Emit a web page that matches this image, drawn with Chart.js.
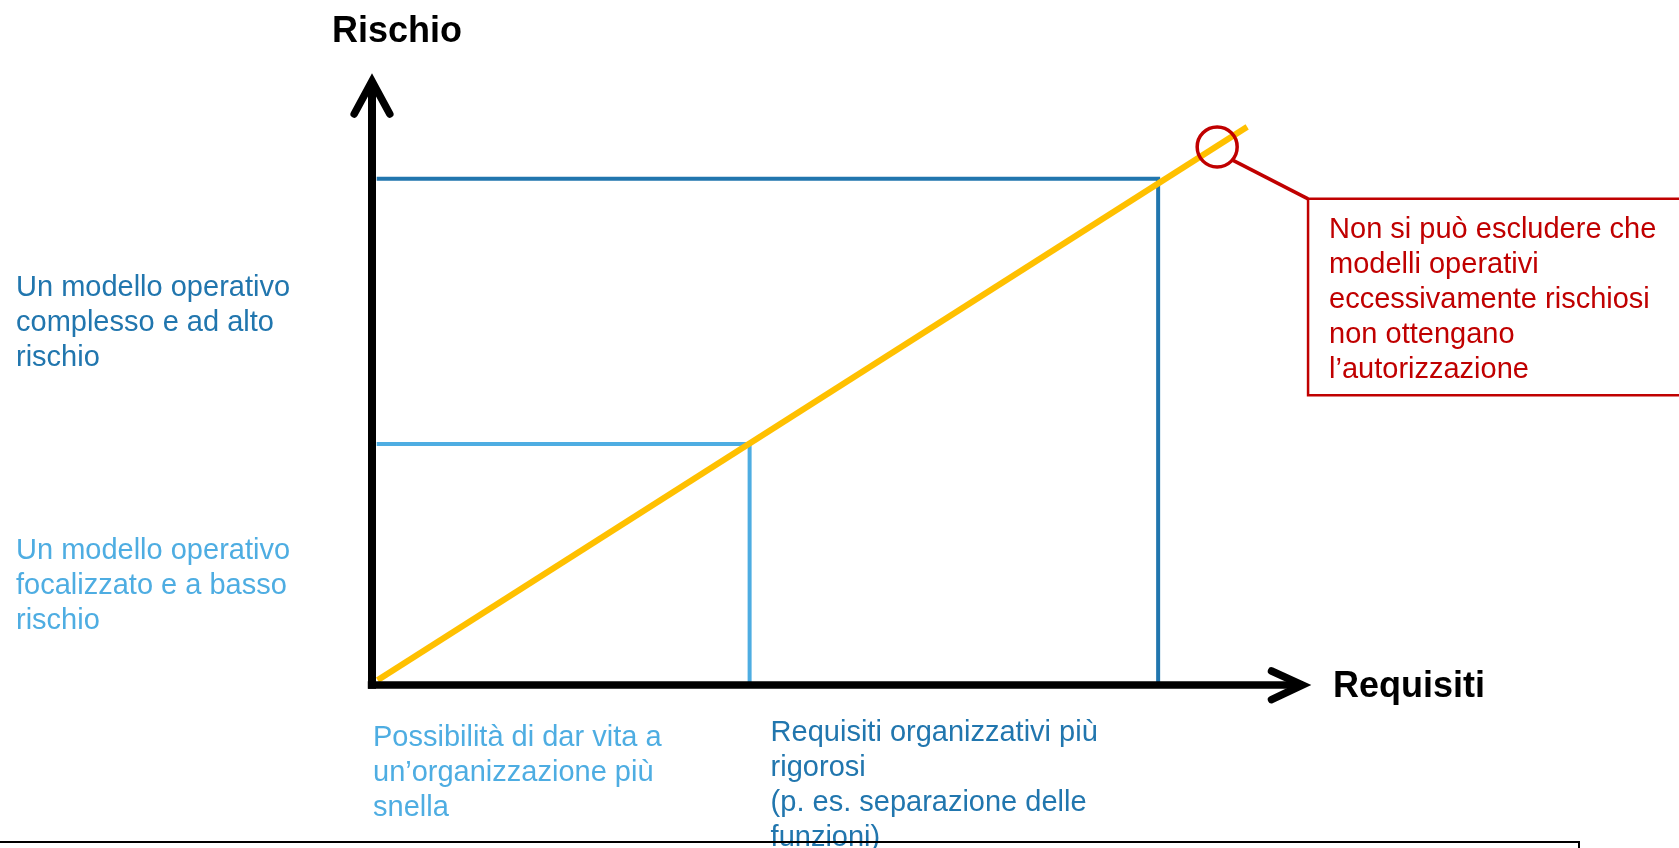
<!DOCTYPE html>
<html>
<head>
<meta charset="utf-8">
<script src="https://cdn.jsdelivr.net/npm/chart.js@4/dist/chart.umd.min.js"></script>
<style>
  html, body { margin: 0; padding: 0; background: #fff; overflow: hidden; }
  #wrap { position: relative; width: 1679px; height: 848px; }
  #c { position: absolute; left: 0; top: 0; }
  #frame { position: absolute; left: 0; top: 841px; width: 1578px; height: 20px;
           border-top: 2px solid #000; border-right: 2px solid #000; }
</style>
</head>
<body>
<div id="wrap">
  <canvas id="c" width="1679" height="848"></canvas>
  <div id="frame"></div>
</div>
<script>
// ---- data (abstract units: requisiti 0..10, rischio 0..10) ----
const X_MAX = 10;
const Y_MAX = 10;
const diagonalX = [0.06, 9.34];          // requisiti grow with rischio
const diagonalY = [0.08, 9.15];
const lowRiskPoint = [4.03, 3.95];       // [requisiti, rischio] low-risk model
const highRiskPoint = [8.39, 8.30];      // [requisiti, rischio] high-risk model
const guideStartX = 0.05;
const calloutPoint = [9.02, 8.82];       // red circle on the diagonal
const leaderX = [9.19, 9.99];
const leaderY = [8.60, 7.97];
const boxX = [9.99, 14.2];
const boxY = [7.97, 4.75];

const yAxisTitle = 'Rischio';
const xAxisTitle = 'Requisiti';
const highRiskLabel = ['Un modello operativo', 'complesso e ad alto', 'rischio'];
const lowRiskLabel = ['Un modello operativo', 'focalizzato e a basso', 'rischio'];
const lowReqLabel = ['Possibilità di dar vita a', 'un’organizzazione più', 'snella'];
const highReqLabel = ['Requisiti organizzativi più', 'rigorosi', '(p. es. separazione delle', 'funzioni)'];
const calloutLabel = ['Non si può escludere che', 'modelli operativi', 'eccessivamente rischiosi', 'non ottengano', 'l’autorizzazione'];

const DARK_BLUE = '#2176AE';
const LIGHT_BLUE = '#4EADE2';
const YELLOW = '#FFC000';
const RED = '#C00000';
const FONT = '"Liberation Sans", Arial, sans-serif';

const pts = (xs, ys) => xs.map((x, i) => ({ x, y: ys[i] }));

const lineDs = (data, color, width, order, extra) => Object.assign({
  data, showLine: true, borderColor: color, borderWidth: width,
  pointRadius: 0, pointHoverRadius: 0, fill: false, tension: 0,
  clip: false, order, borderCapStyle: 'butt', borderJoinStyle: 'miter'
}, extra || {});

const textPlugin = {
  id: 'texts',
  afterDraw(chart) {
    const ctx = chart.ctx;
    const xs = chart.scales.x, ys = chart.scales.y;
    ctx.save();
    ctx.textBaseline = 'alphabetic';
    ctx.textAlign = 'left';
    const block = (lines, x, y0, color, size, lh, bold) => {
      ctx.fillStyle = color;
      ctx.font = (bold ? 'bold ' : '') + size + 'px ' + FONT;
      lines.forEach((t, i) => ctx.fillText(t, x, y0 + i * lh));
    };
    // axis titles
    block([yAxisTitle], xs.getPixelForValue(0) - 40, 42, '#000', 36, 0, true);
    block([xAxisTitle], xs.getPixelForValue(X_MAX) + 24, ys.getPixelForValue(0) + 12, '#000', 36, 0, true);
    // left labels
    block(highRiskLabel, 16, 296, DARK_BLUE, 29, 35, false);
    block(lowRiskLabel, 16, 559, LIGHT_BLUE, 29, 35, false);
    // bottom labels
    block(lowReqLabel, xs.getPixelForValue(0) + 1, 746, LIGHT_BLUE, 29, 35, false);
    block(highReqLabel, xs.getPixelForValue(lowRiskPoint[0]) + 21, 741, DARK_BLUE, 29, 35, false);
    // callout text
    block(calloutLabel, xs.getPixelForValue(boxX[0]) + 21, ys.getPixelForValue(boxY[0]) + 39, RED, 29, 35, false);
    ctx.restore();
  }
};

new Chart(document.getElementById('c'), {
  type: 'scatter',
  data: {
    datasets: [
      // red callout circle
      { data: [{ x: calloutPoint[0], y: calloutPoint[1] }], pointRadius: 20, pointHoverRadius: 20,
        pointBorderWidth: 3.5, pointBorderColor: RED, pointBackgroundColor: 'rgba(0,0,0,0)',
        showLine: false, clip: false, order: 0 },
      // leader line and callout box
      lineDs(pts(leaderX, leaderY), RED, 3.5, 0),
      lineDs([{ x: boxX[1], y: boxY[0] }, { x: boxX[0], y: boxY[0] }, { x: boxX[0], y: boxY[1] }, { x: boxX[1], y: boxY[1] }], RED, 2.5, 0),
      // axes with arrowheads
      lineDs([{ x: 0, y: -0.06 }, { x: 0, y: Y_MAX - 0.2 }], '#000', 8, 1),
      lineDs([{ x: -0.19, y: Y_MAX - 0.64 }, { x: 0, y: Y_MAX - 0.1 }, { x: 0.19, y: Y_MAX - 0.64 }], '#000', 7.5, 1,
        { borderCapStyle: 'round' }),
      lineDs([{ x: -0.045, y: 0 }, { x: X_MAX - 0.15, y: 0 }], '#000', 7.5, 1),
      lineDs([{ x: X_MAX - 0.40, y: 0.23 }, { x: X_MAX - 0.07, y: 0 }, { x: X_MAX - 0.40, y: -0.24 }], '#000', 7.5, 1,
        { borderCapStyle: 'round' }),
      // risk / requirements diagonal
      lineDs(pts(diagonalX, diagonalY), YELLOW, 6, 2),
      // guide lines
      lineDs([{ x: guideStartX, y: highRiskPoint[1] }, { x: highRiskPoint[0], y: highRiskPoint[1] }, { x: highRiskPoint[0], y: 0 }],
        DARK_BLUE, 4, 3),
      lineDs([{ x: guideStartX, y: lowRiskPoint[1] }, { x: lowRiskPoint[0], y: lowRiskPoint[1] }, { x: lowRiskPoint[0], y: 0 }],
        LIGHT_BLUE, 4, 3)
    ]
  },
  options: {
    responsive: false,
    animation: false,
    events: [],
    layout: { padding: { left: 372, right: 370, top: 75, bottom: 163 } },
    plugins: { legend: { display: false }, tooltip: { enabled: false } },
    scales: {
      x: { type: 'linear', min: 0, max: X_MAX, display: false },
      y: { type: 'linear', min: 0, max: Y_MAX, display: false }
    }
  },
  plugins: [textPlugin]
});
</script>
</body>
</html>
